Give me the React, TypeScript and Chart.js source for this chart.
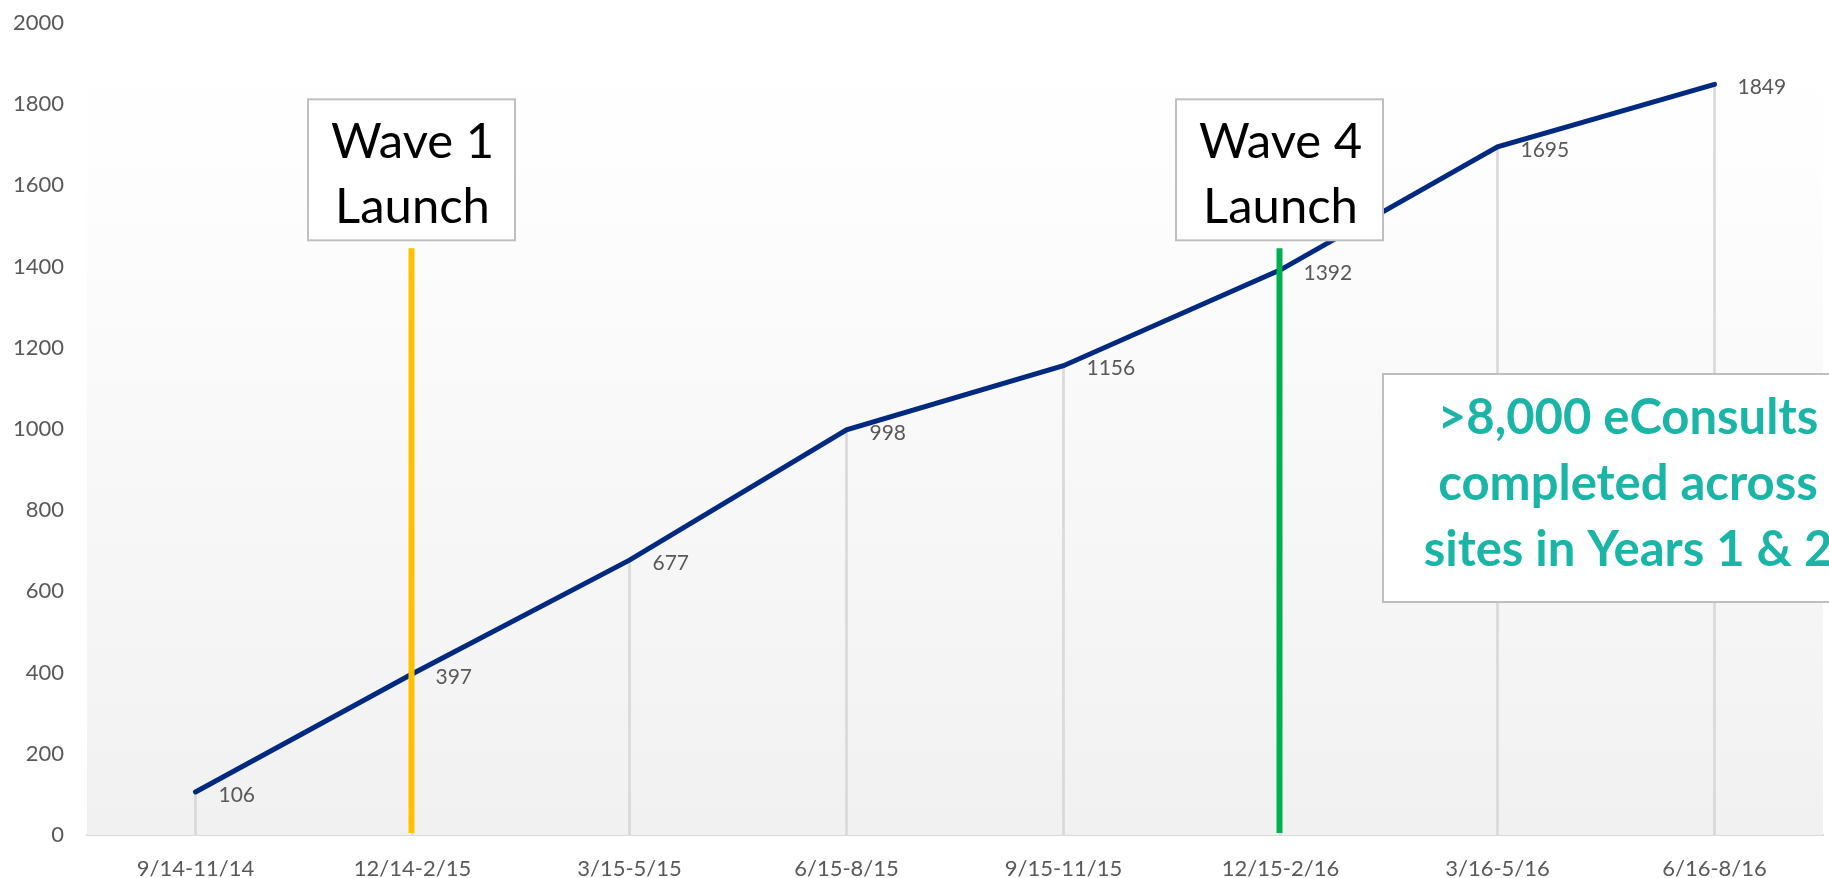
import React, { useEffect, useRef } from "react";
import { Chart, registerables } from "chart.js";

Chart.register(...registerables);

// ---- data ----
const categories = [
  "9/14-11/14",
  "12/14-2/15",
  "3/15-5/15",
  "6/15-8/15",
  "9/15-11/15",
  "12/15-2/16",
  "3/16-5/16",
  "6/16-8/16",
];
const cumulativeConsults = [106, 397, 677, 998, 1156, 1392, 1695, 1849];
const yMin = 0;
const yMax = 2000;
const yStep = 200;

// launch markers: category index, label lines, colour
const launchIndex = [1, 5];
const launchLabels = [
  ["Wave 1", "Launch"],
  ["Wave 4", "Launch"],
];
const launchColors = ["#FFC000", "#00B050"];
const launchLineTop = 1445;
const launchLineBottom = 5;
const launchBoxTopValue = 1812;

const calloutLines = [">8,000 eConsults", "completed across", "sites in Years 1 & 2"];

const FONT = "Lato, 'Open Sans', sans-serif";

const decorPlugin = {
  id: "decor",
  beforeDatasetsDraw(chart: any) {
    const { ctx, chartArea } = chart;
    const g = ctx.createLinearGradient(0, chartArea.top, 0, chartArea.bottom);
    g.addColorStop(0, "#ffffff");
    g.addColorStop(0.15, "#fefefe");
    g.addColorStop(1, "#f1f1f1");
    ctx.save();
    ctx.fillStyle = g;
    ctx.fillRect(chartArea.left, chartArea.top, chartArea.right - chartArea.left, chartArea.bottom - chartArea.top);
    ctx.restore();
  },
  afterDatasetsDraw(chart: any) {
    const { ctx } = chart;
    const xs = chart.scales.x;
    const ys = chart.scales.y;
    ctx.save();
    // data labels
    ctx.font = `21px ${FONT}`;
    ctx.fillStyle = "#595959";
    ctx.textAlign = "left";
    ctx.textBaseline = "middle";
    cumulativeConsults.forEach((v, i) => {
      const x = xs.getPixelForValue(i);
      const y = ys.getPixelForValue(v);
      ctx.fillText(String(v), x + 23, y + 3);
    });

    // launch lines + boxes
    launchIndex.forEach((idx, k) => {
      const x = xs.getPixelForValue(idx) - 1;
      ctx.strokeStyle = launchColors[k];
      ctx.lineWidth = 6;
      ctx.beginPath();
      ctx.moveTo(x, ys.getPixelForValue(launchLineTop));
      ctx.lineTo(x, ys.getPixelForValue(launchLineBottom));
      ctx.stroke();

      const bw = 207;
      const bh = 141;
      const bx = x - bw / 2;
      const by = ys.getPixelForValue(launchBoxTopValue);
      ctx.fillStyle = "#ffffff";
      ctx.fillRect(bx, by, bw, bh);
      ctx.strokeStyle = "#bfbfbf";
      ctx.lineWidth = 2;
      ctx.strokeRect(bx, by, bw, bh);
      ctx.fillStyle = "#000000";
      ctx.font = `49px ${FONT}`;
      ctx.textAlign = "center";
      ctx.textBaseline = "middle";
      launchLabels[k].forEach((t, j) => {
        ctx.fillText(t, x + 1, by + 43 + j * 65);
      });
    });

    // callout box
    const cx = 1383;
    const cy = 374;
    const cw = 500;
    const ch = 228;
    ctx.fillStyle = "#ffffff";
    ctx.fillRect(cx, cy, cw, ch);
    ctx.strokeStyle = "#bfbfbf";
    ctx.lineWidth = 2;
    ctx.strokeRect(cx, cy, cw, ch);
    ctx.fillStyle = "#1BB5A8";
    ctx.font = `bold 49px ${FONT}`;
    ctx.textAlign = "center";
    ctx.textBaseline = "middle";
    calloutLines.forEach((t, j) => {
      ctx.fillText(t, 1628, cy + 44 + j * 66);
    });
    ctx.restore();
  },
};

export default function App() {
  const ref = useRef<HTMLCanvasElement | null>(null);
  useEffect(() => {
    document.body.style.margin = "0";
    const chart = new Chart(ref.current as HTMLCanvasElement, {
      type: "line",
      data: {
        labels: categories,
        datasets: [
          {
            type: "line",
            data: cumulativeConsults,
            borderColor: "#002A80",
            borderWidth: 5,
            pointRadius: 0,
            tension: 0,
            borderCapStyle: "round",
            order: 1,
          } as any,
          {
            type: "bar",
            data: cumulativeConsults,
            backgroundColor: "#d9d9d9",
            barThickness: 2,
            order: 2,
          } as any,
        ],
      },
      options: {
        animation: false,
        responsive: false,
        devicePixelRatio: 1,
        layout: { padding: { top: 23, right: 6, left: 0, bottom: 0 } },
        plugins: { legend: { display: false }, tooltip: { enabled: false } },
        scales: {
          x: {
            type: "category",
            offset: true,
            grid: { display: false, drawTicks: false },
            border: { display: true, color: "#d9d9d9", width: 2 },
            ticks: {
              color: "#595959",
              font: { family: FONT, size: 22 },
              padding: 21,
              maxRotation: 0,
              autoSkip: false,
            },
            afterFit: (s: any) => {
              s.height = 43;
            },
          },
          y: {
            min: yMin,
            max: yMax,
            grid: { display: false, drawTicks: false },
            border: { display: false },
            ticks: {
              stepSize: yStep,
              color: "#595959",
              font: { family: FONT, size: 22 },
              padding: 23,
              callback: (v: any) => String(v),
            },
            afterFit: (s: any) => {
              s.width = 87;
              s.paddingTop = 0;
              s.paddingBottom = 0;
            },
          },
        },
      },
      plugins: [decorPlugin],
    });
    return () => chart.destroy();
  }, []);
  return (
    <div style={{ width: 1829, height: 878 }}>
      <canvas ref={ref} width={1829} height={878} />
    </div>
  );
}
